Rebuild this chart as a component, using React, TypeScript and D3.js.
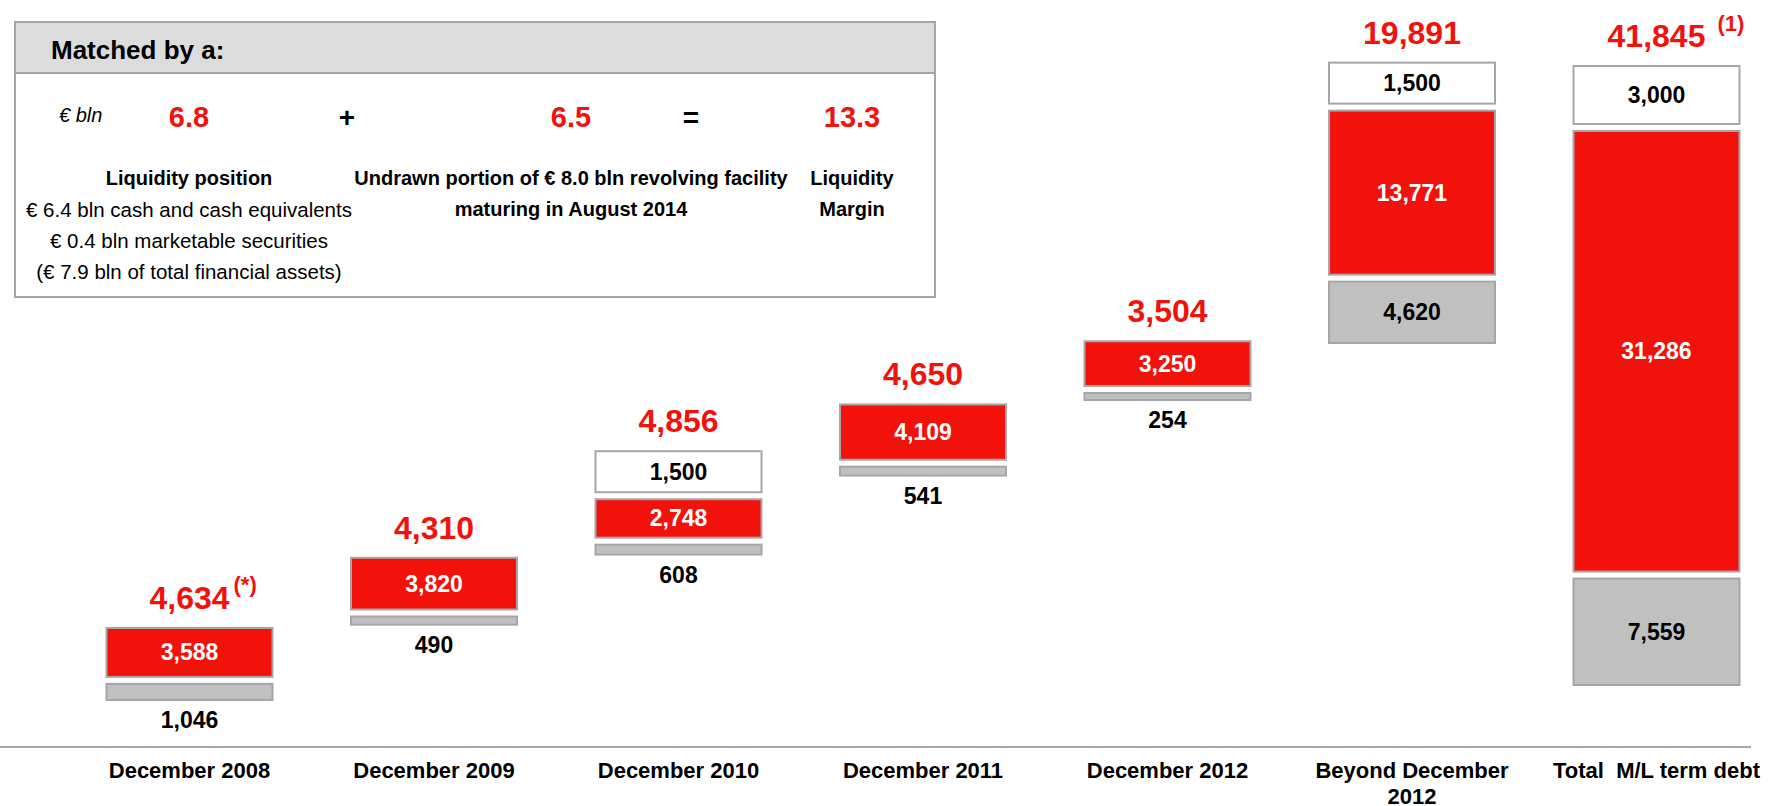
import { useRef, useEffect } from "react";
import * as d3 from "d3";

// Debt maturity profile (€ mln) and the liquidity that covers it
const categories = [
  "December 2008",
  "December 2009",
  "December 2010",
  "December 2011",
  "December 2012",
  "Beyond December 2012",
  "Total  M/L term debt",
];
const grayValues = [1046, 490, 608, 541, 254, 4620, 7559];
const redValues = [3588, 3820, 2748, 4109, 3250, 13771, 31286];
const whiteValues = [0, 0, 1500, 0, 0, 1500, 3000];
const columnTotals = [4634, 4310, 4856, 4650, 3504, 19891, 41845];
const totalNotes = ["(*)", "", "", "", "", "", "(1)"];

// the "Matched by a:" box
const liquidityValues = [6.8, 6.5, 13.3];
const liquidityOperators = ["+", "="];
const liquidityCaptions = [
  [
    "Liquidity position",
    "€ 6.4 bln cash and cash equivalents",
    "€ 0.4 bln marketable securities",
    "(€ 7.9 bln of total financial assets)",
  ],
  ["Undrawn portion of € 8.0 bln revolving facility", "maturing in August 2014"],
  ["Liquidity", "Margin"],
];

const RED = "#f2120b";
const GRAY = "#c0c0c0";
const EDGE = "#a6a6a6";
const FONT = "'Liberation Sans', Arial, sans-serif";

const App = () => {
  const ref = useRef<SVGSVGElement | null>(null);

  useEffect(() => {
    const svg = d3.select(ref.current);
    svg.selectAll("*").remove();

    const axisY = 747;
    const barW = 166;
    const gap = 7;
    const last = categories.length - 1;
    const totalWhiteH = 58;

    const x = d3.scalePoint<string>().domain(categories).range([189.5, 1656.5]);

    // segment heights: slightly compressed scale for the yearly columns
    const h = d3
      .scalePow()
      .exponent(0.9)
      .domain([0, d3.max(redValues.slice(0, last)) as number])
      .range([0, 164]);
    // total column gets its own scale so it fills the plot height
    const hTotal = d3
      .scaleLinear()
      .domain([0, redValues[last] + grayValues[last]])
      .range([0, 685 - 66 - 2 * gap - totalWhiteH]);

    // waterfall steps: each column starts where the previous ones add up to
    const cum = Array.from(d3.cumsum(columnTotals));
    const step = d3
      .scaleLinear()
      .domain([0, cum[last - 2]])
      .range([700, 343]);

    const fmt = d3.format(",");

    // baseline
    svg
      .append("line")
      .attr("x1", 0)
      .attr("x2", 1751)
      .attr("y1", axisY)
      .attr("y2", axisY)
      .attr("stroke", EDGE)
      .attr("stroke-width", 2);

    categories.forEach((cat, i) => {
      const cx = x(cat) as number;
      const isTotal = i === last;
      const scale = isTotal ? hTotal : h;
      let y = isTotal ? 685 : step(i === 0 ? 0 : cum[i - 1]);

      const segs = [
        { v: grayValues[i], fill: GRAY, text: "#000", min: 7 },
        { v: redValues[i], fill: RED, text: "#fff", min: 7 },
        { v: whiteValues[i], fill: "#fff", text: "#000", min: isTotal ? totalWhiteH : 41 },
      ].filter((s) => s.v > 0);

      segs.forEach((s, k) => {
        const sh = s.fill === "#fff" ? s.min : Math.max(s.min, scale(s.v));
        const top = y - sh;
        svg
          .append("rect")
          .attr("x", cx - barW / 2)
          .attr("y", top)
          .attr("width", barW)
          .attr("height", sh)
          .attr("fill", s.fill)
          .attr("stroke", EDGE)
          .attr("stroke-width", 2);

        const inside = sh >= 28;
        svg
          .append("text")
          .attr("x", cx)
          .attr("y", inside ? top + sh / 2 : y + 20)
          .attr("text-anchor", "middle")
          .attr("dominant-baseline", "central")
          .attr("font-family", FONT)
          .attr("font-weight", "bold")
          .attr("font-size", 23)
          .attr("fill", inside ? s.text : "#000")
          .text(fmt(s.v));

        y = top - (k < segs.length - 1 ? gap : 0);
      });

      // column total
      const label = svg
        .append("text")
        .attr("x", cx)
        .attr("y", y - 30)
        .attr("text-anchor", "middle")
        .attr("dominant-baseline", "central")
        .attr("font-family", FONT)
        .attr("font-weight", "bold")
        .attr("font-size", 32)
        .attr("fill", RED)
        .text(fmt(columnTotals[i]));

      if (totalNotes[i]) {
        const tw = (label.node() as SVGTextElement).getComputedTextLength();
        svg
          .append("text")
          .attr("x", cx + tw / 2 + (isTotal ? 12 : 4))
          .attr("y", y - 30 - 13)
          .attr("dominant-baseline", "central")
          .attr("font-family", FONT)
          .attr("font-weight", "bold")
          .attr("font-size", 22)
          .attr("fill", RED)
          .text(totalNotes[i]);
      }

      // category label, wrapped when too long
      const words = cat.split(" ");
      const lines: string[] = [];
      const probe = svg
        .append("text")
        .attr("font-family", FONT)
        .attr("font-weight", "bold")
        .attr("font-size", 22)
        .style("white-space", "pre");
      let line = "";
      words.forEach((w) => {
        const test = line === "" ? w : line + " " + w;
        probe.text(test);
        if ((probe.node() as SVGTextElement).getComputedTextLength() > 215 && line !== "") {
          lines.push(line);
          line = w;
        } else line = test;
      });
      lines.push(line);
      probe.remove();

      lines.forEach((ln, j) => {
        svg
          .append("text")
          .attr("x", cx)
          .attr("y", 770 + j * 26)
          .attr("text-anchor", "middle")
          .attr("dominant-baseline", "central")
          .attr("font-family", FONT)
          .attr("font-weight", "bold")
          .attr("font-size", 22)
          .style("white-space", "pre")
          .text(ln);
      });
    });

    // "Matched by a:" box
    const box = svg.append("g");
    box
      .append("rect")
      .attr("x", 15)
      .attr("y", 22)
      .attr("width", 920)
      .attr("height", 275)
      .attr("fill", "#fff")
      .attr("stroke", EDGE)
      .attr("stroke-width", 2);
    box
      .append("rect")
      .attr("x", 15)
      .attr("y", 22)
      .attr("width", 920)
      .attr("height", 51)
      .attr("fill", "#dcdcdc")
      .attr("stroke", EDGE)
      .attr("stroke-width", 2);

    const boxText = (txt: string, tx: number, ty: number, size: number, anchor = "middle") =>
      box
        .append("text")
        .attr("x", tx)
        .attr("y", ty)
        .attr("text-anchor", anchor)
        .attr("dominant-baseline", "central")
        .attr("font-family", FONT)
        .attr("font-weight", "bold")
        .attr("font-size", size)
        .text(txt);

    boxText("Matched by a:", 51, 50, 26, "start");
    boxText("€ bln", 59, 115, 20, "start")
      .attr("font-weight", "normal")
      .attr("font-style", "italic");

    const colX = [189, 571, 852];
    const opX = [347, 691];
    liquidityValues.forEach((v, i) => {
      boxText(d3.format(".1f")(v), colX[i], 117, 29).attr("fill", RED);
      liquidityCaptions[i].forEach((c, j) => {
        const t = boxText(c, colX[i], 178 + j * 31, 20);
        // in the first column only the heading is bold
        if (i === 0 && j > 0) t.attr("font-weight", "normal").attr("font-size", 20.5);
      });
    });
    liquidityOperators.forEach((op, i) => {
      boxText(op, opX[i], 117, 28);
    });
  }, []);

  return (
    <svg
      ref={ref}
      width={1778}
      height={806}
      style={{ position: "absolute", left: 0, top: 0, background: "#fff" }}
    />
  );
};

export default App;
